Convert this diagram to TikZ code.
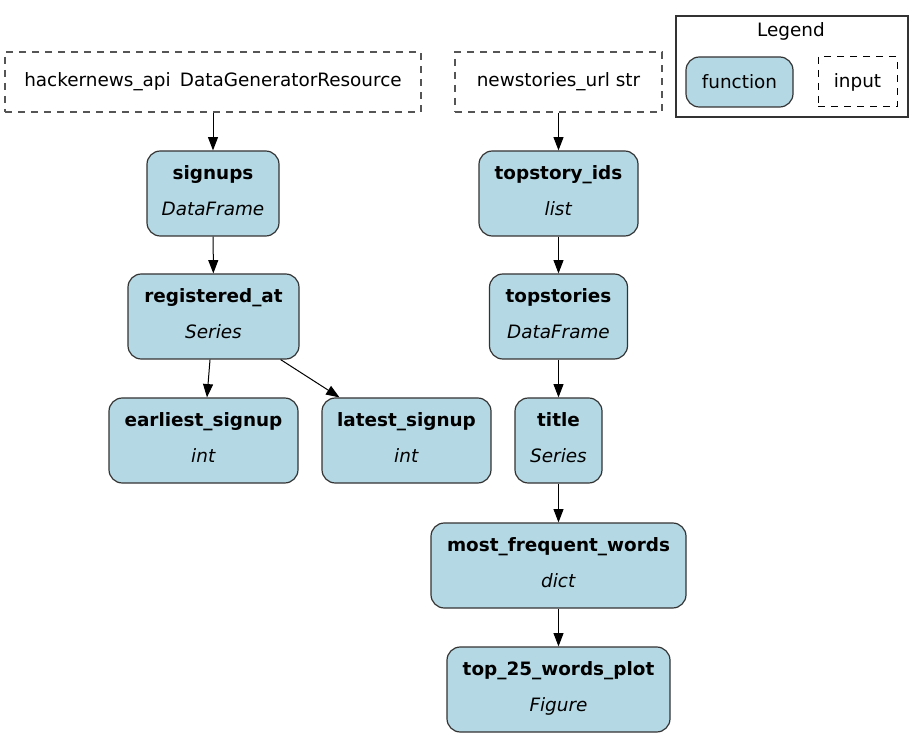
\documentclass[tikz,border=0pt]{standalone}
\usepackage{fontspec}
\setmainfont{DejaVu Sans}
\usetikzlibrary{arrows.meta}
\definecolor{fnblue}{HTML}{B4D8E4}
\definecolor{edgegray}{HTML}{333333}
\definecolor{dashgray}{HTML}{555555}
\tikzset{
  fn/.style={draw=edgegray, line width=0.9pt, fill=fnblue, rounded corners=10pt,
    minimum height=63.75pt, inner sep=0pt, align=center, minimum width=#1,
    font=\fontsize{13.8pt}{17pt}\selectfont},
  inbox/.style={draw=dashgray, line width=0.8pt, dash pattern=on 5.25pt off 4.5pt,
    minimum height=45pt, inner sep=0pt, minimum width=#1,
    font=\fontsize{13.8pt}{17pt}\selectfont},
  legfn/.style={draw=edgegray, line width=0.9pt, fill=fnblue, rounded corners=10pt,
    minimum height=37.5pt, inner sep=0pt, minimum width=#1,
    font=\fontsize{13.8pt}{17pt}\selectfont},
  legin/.style={draw=black, line width=0.75pt, dash pattern=on 5.25pt off 4.5pt,
    minimum height=37.5pt, inner sep=0pt, minimum width=#1,
    font=\fontsize{13.8pt}{17pt}\selectfont},
  legbox/.style={draw=edgegray, line width=0.9pt, minimum width=174pt,
    minimum height=75.75pt, inner sep=0pt},
  legtitle/.style={inner sep=0pt, font=\fontsize{13.8pt}{17pt}\selectfont},
  edge/.style={draw=black, line width=0.75pt, -{Triangle[length=10pt,width=7.5pt]}},
}
\newcommand{\fnlabel}[2]{\textbf{#1}\\[10pt]\textit{#2}\rule[-4pt]{0pt}{0pt}}
\begin{document}
\begin{tikzpicture}[x=0.75pt,y=-0.75pt]
\useasboundingbox (0,0) rectangle (924,737);
% inputs
\node[inbox=312pt] (hn) at (213,82) {hackernews\_api\hspace{0.5em}DataGeneratorResource};
\node[inbox=155.25pt] (nu) at (558.5,82) {newstories\_url str};
% legend
\node[legbox] (legend) at (792,66.5) {};
\node[legtitle] (legendtitle) at (791,31) {Legend};
\node[legfn=80.25pt] (legfunction) at (739.5,82) {function};
\node[legin=59.25pt] (leginput) at (857.5,82) {input};
% functions
\node[fn=99pt] (signups) at (213,193.5) {\fnlabel{signups}{DataFrame}};
\node[fn=119.25pt] (topids) at (558.5,193.5) {\fnlabel{topstory\_ids}{list}};
\node[fn=128.25pt] (reg) at (213.5,316.5) {\fnlabel{registered\_at}{Series}};
\node[fn=141.75pt] (earliest) at (203.5,440.5) {\fnlabel{earliest\_signup}{int}};
\node[fn=126.75pt] (latest) at (406.5,440.5) {\fnlabel{latest\_signup}{int}};
\node[fn=103.5pt] (topstories) at (558.5,316.5) {\fnlabel{topstories}{DataFrame}};
\node[fn=65.25pt] (title) at (558.5,440.5) {\fnlabel{title}{Series}};
\node[fn=191.25pt] (mfw) at (558.5,565.5) {\fnlabel{most\_frequent\_words}{dict}};
\node[fn=167.25pt] (top25) at (558.5,689.5) {\fnlabel{top\_25\_words\_plot}{Figure}};
% edges
\draw[edge] (hn) -- (signups);
\draw[edge] (signups) -- (reg);
\draw[edge] (reg) -- (earliest);
\draw[edge] (reg) -- (latest);
\draw[edge] (nu) -- (topids);
\draw[edge] (topids) -- (topstories);
\draw[edge] (topstories) -- (title);
\draw[edge] (title) -- (mfw);
\draw[edge] (mfw) -- (top25);
\end{tikzpicture}
\end{document}
